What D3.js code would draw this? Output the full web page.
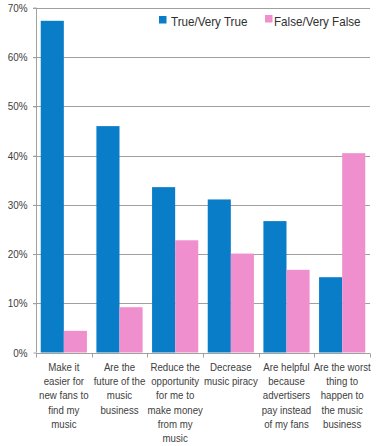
<!DOCTYPE html>
<html>
<head>
<meta charset="utf-8">
<script src="https://cdn.jsdelivr.net/npm/d3@7"></script>
<style>
  html, body { margin: 0; padding: 0; background: #fff; }
  svg { display: block; font-family: "Liberation Sans", Arial, sans-serif; }
</style>
</head>
<body>
<svg id="chart" width="378" height="446"></svg>
<script>
const categories = [
  ["Make it", "easier for", "new fans to", "find my", "music"],
  ["Are the", "future of the", "music", "business"],
  ["Reduce the", "opportunity", "for me to", "make money", "from my", "music"],
  ["Decrease", "music piracy"],
  ["Are helpful", "because", "advertisers", "pay instead", "of my fans"],
  ["Are the worst", "thing to", "happen to", "the music", "business"]
];
const seriesNames = ["True/Very True", "False/Very False"];
const trueValues = [67.4, 46.0, 33.6, 31.1, 26.7, 15.3];
const falseValues = [4.4, 9.2, 22.8, 20.1, 16.8, 40.5];
const yTicks = [0, 10, 20, 30, 40, 50, 60, 70];
const colors = ["#0a7dc8", "#ef8fcd"];

const svg = d3.select("#chart");
const margin = {left: 36, right: 8, top: 8, bottom: 93.5};
const W = 378, H = 446;
const x0 = d3.scaleBand().domain(d3.range(categories.length))
  .range([margin.left, W - margin.right]).paddingInner(0.17).paddingOuter(0.085);
const bandAll = d3.scaleBand().domain(d3.range(categories.length))
  .range([margin.left, W - margin.right]);
const x1 = d3.scaleBand().domain([0, 1]).range([0, x0.bandwidth()]);
const y = d3.scaleLinear().domain([0, 70]).range([H - margin.bottom, margin.top]);

// gridlines
svg.append("g").selectAll("line").data(yTicks.filter(d => d > 0)).join("line")
  .attr("x1", margin.left - 3).attr("x2", W - margin.right)
  .attr("y1", d => Math.round(y(d)) + 0.5).attr("y2", d => Math.round(y(d)) + 0.5)
  .attr("stroke", "#a0a0a0").attr("stroke-width", 1);

// bars
const data = categories.map((c, i) => [trueValues[i], falseValues[i]]);
const g = svg.append("g").selectAll("g").data(data).join("g")
  .attr("transform", (d, i) => `translate(${x0(i)},0)`);
g.selectAll("rect").data(d => d).join("rect")
  .attr("x", (d, j) => x1(j)).attr("width", x1.bandwidth())
  .attr("y", d => y(d)).attr("height", d => y(0) - y(d))
  .attr("fill", (d, j) => colors[j]);

// y axis
const yAxis = svg.append("g").attr("transform", `translate(${margin.left + 0.5},0)`)
  .call(d3.axisLeft(y).tickValues(yTicks).tickFormat(d => d + "%").tickSize(3).tickPadding(7));
yAxis.select(".domain").attr("stroke", "#a0a0a0").attr("d", `M-3,${y(70)}H0V${y(0)}`);
yAxis.selectAll(".tick line").attr("stroke", "#a0a0a0");
yAxis.selectAll("text").attr("fill", "#404040").style("font-size", "11px")
  .attr("transform", "scale(0.9,1)");

// x axis
const xBase = Math.round(y(0)) + 0.5;
svg.append("line").attr("x1", margin.left).attr("x2", W - margin.right)
  .attr("y1", xBase).attr("y2", xBase).attr("stroke", "#a0a0a0");
const edges = d3.range(categories.length + 1).map(i => i < categories.length ? bandAll(i) : bandAll(i - 1) + bandAll.bandwidth());
svg.append("g").selectAll("line").data(edges).join("line")
  .attr("x1", d => Math.round(d) + 0.5).attr("x2", d => Math.round(d) + 0.5)
  .attr("y1", xBase).attr("y2", xBase + 4).attr("stroke", "#a0a0a0");

// x labels
const lab = svg.append("g").selectAll("g").data(categories).join("g")
  .attr("transform", (d, i) => `translate(${bandAll(i) + bandAll.bandwidth() / 2},371) scale(0.88,1)`);
lab.selectAll("text").data(d => d).join("text")
  .attr("x", 0).attr("y", (d, j) => j * 14.2)
  .attr("text-anchor", "middle").attr("fill", "#404040").style("font-size", "11px")
  .text(d => d);

// legend
const legendX = [159, 265];
const legendTextX = [171, 274];
const leg = svg.append("g").selectAll("g").data(seriesNames).join("g");
leg.append("rect").attr("x", (d, i) => legendX[i]).attr("y", (d, i) => i === 0 ? 16 : 15)
  .attr("width", 7.5).attr("height", 7.5).attr("fill", (d, i) => colors[i]);
leg.append("text").attr("transform", (d, i) => `translate(${legendTextX[i]},25.5) scale(0.93,1)`)
  .attr("fill", "#303030").style("font-size", "12.5px").text(d => d);
</script>
</body>
</html>
